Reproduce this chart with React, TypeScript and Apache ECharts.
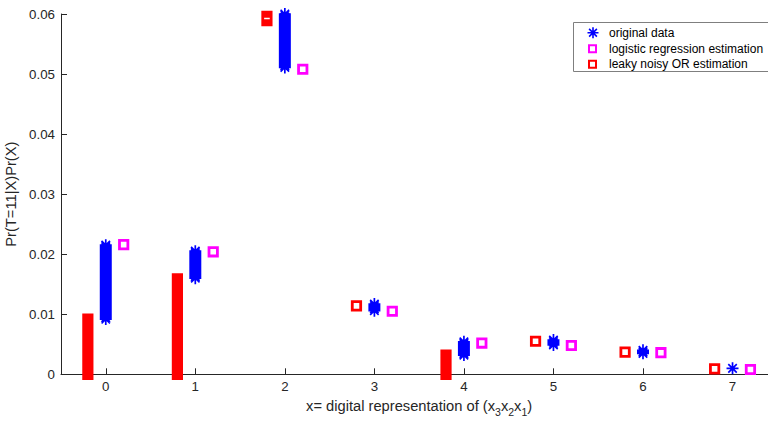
import React, { useEffect, useRef } from 'react';
import * as echarts from 'echarts';

// ---- data ----
const categories = [0, 1, 2, 3, 4, 5, 6, 7];
const yTickValues = [0, 0.01, 0.02, 0.03, 0.04, 0.05, 0.06];
// original data: vertical spread of the plotted samples at each x
const originalLow = [0.0092, 0.016, 0.0511, 0.0106, 0.0032, 0.0049, 0.0035, 0.0009];
const originalHigh = [0.0215, 0.0205, 0.06, 0.0117, 0.0054, 0.0057, 0.004, 0.001];
// logistic regression estimation
const logisticEstimate = [0.0216, 0.0204, 0.0508, 0.0105, 0.0052, 0.0048, 0.0036, 0.0008];
// leaky noisy OR estimation (spread of samples)
const leakyLow = [0, 0, 0.0589, 0.0114, 0, 0.0055, 0.0037, 0.0009];
const leakyHigh = [0.0092, 0.0159, 0.0596, 0.0114, 0.0032, 0.0055, 0.0037, 0.0009];

const seriesNames = ['original data', 'logistic regression estimation', 'leaky noisy OR estimation'];
const xName = 'x= digital representation of (x';
const yName = 'Pr(T=11|X)Pr(X)';

const SHIFT = 0.2;
const FONT = 'Liberation Sans, Arial, Helvetica, sans-serif';
const AX = '#262626';
const BLUE = '#0000ff';
const MAGENTA = '#ff00ff';
const RED = '#ff0000';

let registered = false;
function registerShapes() {
  if (registered) return;
  registered = true;
  const AsteriskColumn = (echarts.graphic as any).extendShape({
    type: 'asteriskColumn',
    shape: { cx: 0, y1: 0, y2: 0, r: 5, step: 2 },
    buildPath(ctx: any, s: any) {
      const n = Math.max(0, Math.round(Math.abs(s.y2 - s.y1) / s.step));
      const d = s.r * Math.SQRT1_2;
      for (let i = 0; i <= n; i++) {
        const y = n === 0 ? s.y1 : s.y1 + ((s.y2 - s.y1) * i) / n;
        ctx.moveTo(s.cx - s.r, y);
        ctx.lineTo(s.cx + s.r, y);
        ctx.moveTo(s.cx, y - s.r);
        ctx.lineTo(s.cx, y + s.r);
        ctx.moveTo(s.cx - d, y - d);
        ctx.lineTo(s.cx + d, y + d);
        ctx.moveTo(s.cx - d, y + d);
        ctx.lineTo(s.cx + d, y - d);
      }
    },
  });
  const SquareColumn = (echarts.graphic as any).extendShape({
    type: 'squareColumn',
    shape: { cx: 0, y1: 0, y2: 0, h: 4, step: 2 },
    buildPath(ctx: any, s: any) {
      const n = Math.max(0, Math.round(Math.abs(s.y2 - s.y1) / s.step));
      for (let i = 0; i <= n; i++) {
        const y = n === 0 ? s.y1 : s.y1 + ((s.y2 - s.y1) * i) / n;
        ctx.moveTo(s.cx - s.h, y - s.h);
        ctx.lineTo(s.cx + s.h, y - s.h);
        ctx.lineTo(s.cx + s.h, y + s.h);
        ctx.lineTo(s.cx - s.h, y + s.h);
        ctx.closePath();
      }
    },
  });
  (echarts.graphic as any).registerShape('asteriskColumn', AsteriskColumn);
  (echarts.graphic as any).registerShape('squareColumn', SquareColumn);
}

export default function App() {
  const ref = useRef<HTMLDivElement>(null);
  useEffect(() => {
    if (!ref.current) return;
    registerShapes();
    const chart = echarts.init(ref.current, undefined, { renderer: 'svg' });

    const originalData = categories.map((c, i) => [c, originalLow[i], originalHigh[i]]);
    const leakyData = categories.map((c, i) => [c - SHIFT, leakyLow[i], leakyHigh[i]]);
    const logisticData = categories.map((c, i) => [c + SHIFT, logisticEstimate[i]]);

    const legendLeft = 573.5;
    const legendTop = 22.5;
    const rowY = [32.7, 48.7, 64.3];

    const option: any = {
      animation: false,
      backgroundColor: '#ffffff',
      textStyle: { fontFamily: FONT },
      grid: { left: 61, right: -9.3, top: 14, bottom: 46.7, containLabel: false, outerBoundsMode: 'none' },
      xAxis: {
        type: 'value',
        min: -0.5,
        max: 7.5,
        name: `{n|${xName}}{s|3}{n|x}{s|2}{n|x}{s|1}{n|)}`,
        nameLocation: 'middle',
        nameGap: 13,
        nameTextStyle: {
          color: AX,
          fontFamily: FONT,
          rich: {
            n: { fontSize: 14.7, color: AX, fontFamily: FONT, lineHeight: 24, verticalAlign: 'middle' },
            s: { fontSize: 10.5, color: AX, fontFamily: FONT, lineHeight: 10, verticalAlign: 'bottom' },
          },
        },
        axisLine: { show: true, onZero: false, lineStyle: { color: AX, width: 1 } },
        axisTick: { show: true, inside: true, length: 6, customValues: categories, lineStyle: { color: AX } },
        axisLabel: { customValues: categories, color: AX, fontSize: 13.3, margin: 6, fontFamily: FONT },
        splitLine: { show: false },
      },
      yAxis: {
        type: 'value',
        min: 0,
        max: 0.06,
        interval: 0.01,
        name: yName,
        nameLocation: 'middle',
        nameGap: 38,
        nameTextStyle: { color: AX, fontSize: 14.7, fontFamily: FONT },
        axisLine: { show: true, onZero: false, lineStyle: { color: AX, width: 1 } },
        axisTick: { show: true, inside: true, length: 6, lineStyle: { color: AX } },
        axisLabel: {
          color: AX,
          fontSize: 13.3,
          margin: 6,
          fontFamily: FONT,
          customValues: yTickValues,
          formatter: (v: number) => (v === 0 ? '0' : v.toFixed(2)),
        },
        splitLine: { show: false },
      },
      series: [
        {
          name: seriesNames[2],
          type: 'custom',
          data: leakyData,
          encode: { x: 0, y: [1, 2] },
          clip: false,
          z: 3,
          renderItem: (params: any, api: any) => {
            const lo = api.coord([api.value(0), api.value(1)]);
            const hi = api.coord([api.value(0), api.value(2)]);
            return {
              type: 'squareColumn',
              shape: { cx: lo[0], y1: hi[1], y2: lo[1], h: 4.2, step: 1.5 },
              style: { stroke: RED, fill: 'none', lineWidth: 2.8 },
            };
          },
        },
        {
          name: seriesNames[0],
          type: 'custom',
          data: originalData,
          encode: { x: 0, y: [1, 2] },
          clip: false,
          z: 4,
          renderItem: (params: any, api: any) => {
            const lo = api.coord([api.value(0), api.value(1)]);
            const hi = api.coord([api.value(0), api.value(2)]);
            return {
              type: 'asteriskColumn',
              shape: { cx: lo[0], y1: hi[1], y2: lo[1], r: 6, step: 1.5 },
              style: { stroke: BLUE, fill: 'none', lineWidth: 1.7 },
            };
          },
        },
        {
          name: seriesNames[1],
          type: 'custom',
          data: logisticData,
          encode: { x: 0, y: 1 },
          clip: false,
          z: 3,
          renderItem: (params: any, api: any) => {
            const p = api.coord([api.value(0), api.value(1)]);
            return {
              type: 'squareColumn',
              shape: { cx: p[0], y1: p[1], y2: p[1], h: 4.2, step: 1.5 },
              style: { stroke: MAGENTA, fill: 'none', lineWidth: 2.8 },
            };
          },
        },
      ],
      graphic: [
        {
          type: 'rect',
          z: 100,
          shape: { x: legendLeft, y: legendTop, width: 200, height: 49 },
          style: { fill: '#ffffff', stroke: '#7f7f7f', lineWidth: 1 },
        },
        {
          type: 'asteriskColumn',
          z: 101,
          shape: { cx: 593, y1: rowY[0], y2: rowY[0], r: 5.5, step: 2 },
          style: { stroke: BLUE, fill: 'none', lineWidth: 1.6 },
        },
        {
          type: 'rect',
          z: 101,
          shape: { x: 589, y: rowY[1] - 3.5, width: 7, height: 7 },
          style: { stroke: MAGENTA, fill: 'none', lineWidth: 2 },
        },
        {
          type: 'rect',
          z: 101,
          shape: { x: 589, y: rowY[2] - 3.5, width: 7, height: 7 },
          style: { stroke: RED, fill: 'none', lineWidth: 2 },
        },
        ...seriesNames.map((name, i) => ({
          type: 'text',
          z: 101,
          x: 609,
          y: rowY[i],
          style: {
            text: name,
            fill: '#000000',
            font: `12px ${FONT}`,
            verticalAlign: 'middle',
            align: 'left',
          },
        })),
      ],
    };
    chart.setOption(option);
    return () => chart.dispose();
  }, []);
  return (
    <div
      ref={ref}
      style={{ position: 'absolute', left: 0, top: 0, width: 768, height: 421, background: '#fff' }}
    />
  );
}
